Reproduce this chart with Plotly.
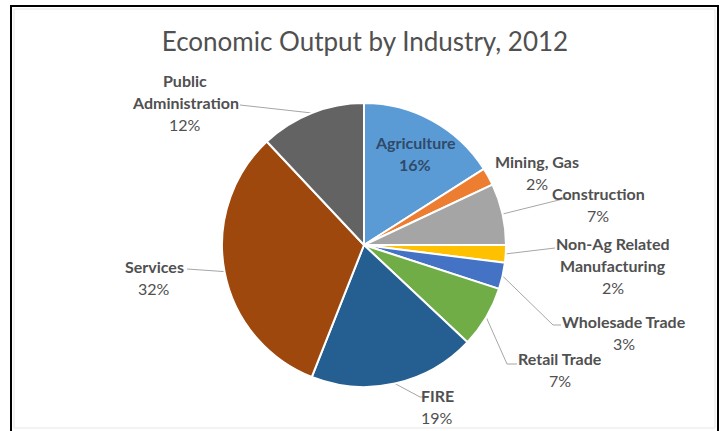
import math
import plotly.graph_objects as go

# Share of economic output by industry, 2012 (percent)
categories = [
    "Agriculture", "Mining, Gas", "Construction", "Non-Ag Related Manufacturing",
    "Wholesade Trade", "Retail Trade", "FIRE", "Services", "Public Administration",
]
shares = [16, 2, 7, 2, 3, 7, 19, 32, 12]
colors = ["#5B9BD5", "#ED7D31", "#A5A5A5", "#FFC000", "#4472C4",
          "#70AD47", "#255E91", "#9E480E", "#636363"]

# How the longer names wrap onto two lines
wrapped = {
    "Public Administration": ["Public", "Administration"],
    "Non-Ag Related Manufacturing": ["Non-Ag Related", "Manufacturing"],
}

W, H = 721, 431
CX, CY, R = 364, 245, 142          # pie centre and radius in pixels

# Label placement: centre x, first-line y, and where the leader line starts
# (None = no leader line). Elbow gives the short horizontal run before the
# line turns towards the slice.
label_layout = {
    "Agriculture":                  dict(x=415, y=142, lead=None, inside=True),
    "Mining, Gas":                  dict(x=537, y=161, lead=None),
    "Construction":                 dict(x=598, y=193, lead=(561, 198), elbow=6),
    "Non-Ag Related Manufacturing": dict(x=613, y=243, lead=(555, 248), elbow=0),
    "Wholesade Trade":              dict(x=624, y=321, lead=(561, 325), elbow=-8),
    "Retail Trade":                 dict(x=560, y=358, lead=(517, 364), elbow=-10),
    "FIRE":                         dict(x=437, y=395, lead=(428, 397), elbow=-8),
    "Services":                     dict(x=154, y=266, lead=(187, 269), elbow=0),
    "Public Administration":        dict(x=185, y=80, lead=(240, 105), elbow=0),
}
LINE_STEP = 22

fig = go.Figure()

fig.add_trace(go.Pie(
    labels=categories,
    values=shares,
    sort=False,
    direction="clockwise",
    rotation=0,
    marker=dict(colors=colors, line=dict(color="white", width=2)),
    textinfo="none",
    hoverinfo="label+percent",
    showlegend=False,
    domain=dict(x=[(CX - R) / W, (CX + R) / W], y=[1 - (CY + R) / H, 1 - (CY - R) / H]),
))

total = sum(shares)
annotations = []
cum = 0
for name, val in zip(categories, shares):
    mid = (cum + val / 2) / total * 2 * math.pi
    cum += val
    ex = CX + R * math.sin(mid)
    ey = CY - R * math.cos(mid)
    lay = label_layout[name]
    inside = lay.get("inside", False)
    color = "#2F4A6A" if inside else "#505050"
    lines = wrapped.get(name, [name])
    pct = f"{val / total:.0%}"
    rows = [(f"<b>{t}</b>") for t in lines] + [pct if not inside else f"<b>{pct}</b>"]
    for i, t in enumerate(rows):
        annotations.append(dict(
            x=lay["x"], y=lay["y"] + i * LINE_STEP, xref="x", yref="y",
            text=t, showarrow=False, xanchor="center", yanchor="middle",
            font=dict(family="Lato", size=16, color=color),
        ))
    if lay.get("lead"):
        sx, sy = lay["lead"]
        kx = sx + lay.get("elbow", 0)
        fig.add_trace(go.Scatter(
            x=[sx, kx, ex], y=[sy, sy, ey], mode="lines",
            line=dict(color="#A6A6A6", width=1), hoverinfo="skip", showlegend=False,
        ))

fig.update_layout(
    width=W, height=H,
    margin=dict(l=0, r=0, t=0, b=0),
    paper_bgcolor="white", plot_bgcolor="rgba(0,0,0,0)",
    xaxis=dict(range=[0, W], visible=False, fixedrange=True),
    yaxis=dict(range=[H, 0], visible=False, fixedrange=True),
    title=dict(
        text="Economic Output by Industry, 2012",
        x=365 / W, xanchor="center", y=1 - 42 / H, yanchor="middle",
        font=dict(family="Lato", size=26, color="#505050"),
    ),
    annotations=annotations,
    shapes=[
        # outer black frame
        dict(type="rect", xref="paper", yref="paper",
             x0=11 / W, x1=718 / W, y0=-0.01, y1=1 - 6 / H,
             line=dict(color="black", width=2)),
        # thin grey chart-area border inside it
        dict(type="rect", xref="paper", yref="paper",
             x0=14 / W, x1=715 / W, y0=3 / H, y1=1 - 9 / H,
             line=dict(color="#E6E6E6", width=1)),
    ],
)

fig.write_html("out.html")
